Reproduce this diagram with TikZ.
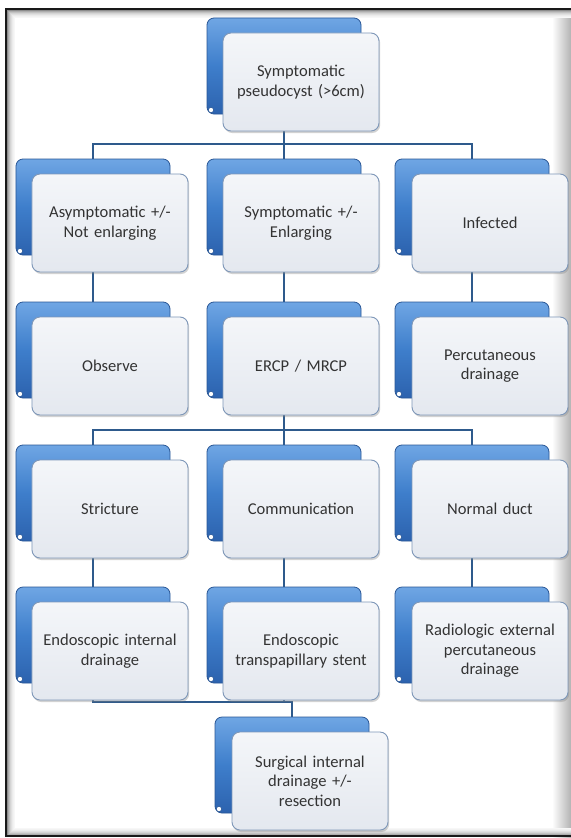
\documentclass[tikz,border=0pt]{standalone}
\usepackage{fontspec}
\setmainfont{Carlito}
\usetikzlibrary{shadows}
\definecolor{txt}{HTML}{333333}
\definecolor{blueTop}{HTML}{6FA6E4}
\definecolor{blueMid}{HTML}{3E7ECB}
\definecolor{blueBot}{HTML}{2C62AE}
\definecolor{blueDraw}{HTML}{2A5796}
\definecolor{frontTop}{HTML}{F4F6F9}
\definecolor{frontBot}{HTML}{E4E8EF}
\definecolor{frontDraw}{HTML}{7E97B8}
\definecolor{conn}{HTML}{2E5A8C}
\pgfdeclarelayer{framelayer}
\pgfdeclarelayer{lines}
\pgfsetlayers{framelayer,lines,main}
\tikzset{
  backbox/.style={draw=blueDraw, line width=0.8bp, rounded corners=7bp,
    top color=blueTop, bottom color=blueBot, middle color=blueMid,
    minimum width=154bp, minimum height=96bp, inner sep=0pt},
  frontbox/.style={draw=frontDraw, line width=0.9bp, rounded corners=8bp,
    top color=frontTop, bottom color=frontBot,
    minimum width=156bp, minimum height=98bp, inner sep=0pt,
    text width=152bp, align=center, text=txt,
    font=\fontsize{16.6}{19.5}\selectfont,
    drop shadow={shadow xshift=1.2bp, shadow yshift=-2bp, opacity=0.35}},
  connline/.style={draw=conn, line width=2.3bp}
}
% #1 name, #2 blue left, #3 front left, #4 front top, #5 text
\newcommand\pairbox[5]{%
  \node[backbox] (b#1) at ({#2+77},{#4+33}) {};
  \fill[white] ({#2+4},{#4+77}) circle (2.6bp);
  \draw[blueDraw, line width=0.5bp] ({#2+4},{#4+77}) circle (2.6bp);
  \node[frontbox] (f#1) at ({#3+78},{#4+49}) {#5};
}
\begin{document}
\begin{tikzpicture}[x=1bp,y=-1bp]
\useasboundingbox (0,0) rectangle (571,838);
\clip (0,0) rectangle (571,838);

% frame
\begin{pgfonlayer}{framelayer}
  \fill[white] (0,0) rectangle (571,838);
  \shade[left color=white, right color=black!30] (552,9) rectangle (571,838);
  \foreach \i/\c in {1/45,2/32,3/24,4/17,5/12,6/8,7/5,8/3}{
    \draw[black!\c, line width=1bp] ({6+\i},{9+\i}) rectangle ({600-\i},{836-\i});
  }
  \draw[black!90, line width=2.2bp] (6,9) rectangle (600,836);
\end{pgfonlayer}

% boxes
\pairbox{1}{207}{223}{33}{Symptomatic\\pseudocyst (>6cm)}
\pairbox{21}{16}{32}{174}{Asymptomatic +/-\\Not enlarging}
\pairbox{22}{207}{223}{174}{Symptomatic +/-\\Enlarging}
\pairbox{23}{395}{412}{174}{Infected}
\pairbox{31}{16}{32}{317}{Observe}
\pairbox{32}{207}{223}{317}{ERCP / MRCP}
\pairbox{33}{395}{412}{317}{Percutaneous\\drainage}
\pairbox{41}{16}{32}{460}{Stricture}
\pairbox{42}{207}{223}{460}{Communication}
\pairbox{43}{395}{412}{460}{Normal duct}
\pairbox{51}{16}{32}{602}{Endoscopic internal\\drainage}
\pairbox{52}{207}{223}{602}{Endoscopic\\transpapillary stent}
\pairbox{53}{395}{412}{602}{Radiologic external\\percutaneous\\drainage}
\pairbox{6}{215}{232}{732}{Surgical internal\\drainage +/-\\resection}

% connectors
\coordinate (busA) at (0,144);
\coordinate (busB) at (0,430);
\coordinate (busC) at (0,702);
\begin{pgfonlayer}{lines}
  \draw[connline] (b1.center) -- (b22.north);
  \draw[connline] (b21.north) -- (b21.north |- busA) -- (b23.north |- busA) -- (b23.north);
  \draw[connline] (b21.center) -- (b31.north);
  \draw[connline] (b22.center) -- (b32.north);
  \draw[connline] (b23.center) -- (b33.north);
  \draw[connline] (b32.center) -- (b42.north);
  \draw[connline] (b41.north) -- (b41.north |- busB) -- (b43.north |- busB) -- (b43.north);
  \draw[connline] (b41.center) -- (b51.north);
  \draw[connline] (b42.center) -- (b52.north);
  \draw[connline] (b43.center) -- (b53.north);
  \draw[connline] (b51.center) -- (b51.center |- busC) -- (b6.north |- busC) -- (b6.north);
  \draw[connline] (b52.center) -- (b52.center |- busC);
\end{pgfonlayer}
\end{tikzpicture}
\end{document}
